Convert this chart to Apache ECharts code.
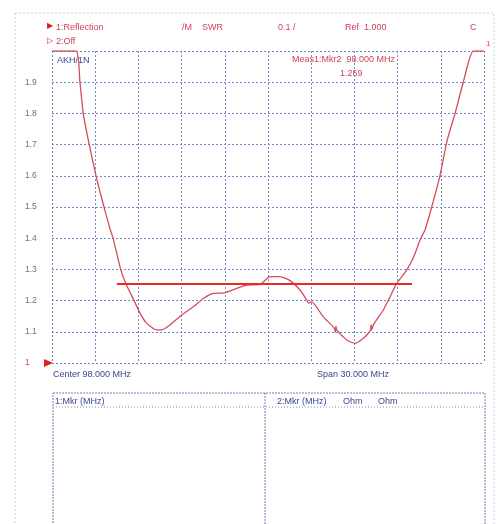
<!DOCTYPE html>
<html>
<head>
<meta charset="utf-8">
<script src="https://cdn.jsdelivr.net/npm/echarts@6/dist/echarts.min.js"></script>
<style>
html,body{margin:0;padding:0;background:#fff;}
#chart{width:499px;height:524px;}
</style>
</head>
<body>
<div id="chart"></div>
<script>
// Frequency (MHz) of the traced SWR points
const freqMHz = [83.0, 84.67, 84.94, 85.17, 85.52, 86.06, 86.61, 87.03, 87.24, 87.77, 88.14, 88.65, 89.11, 89.58, 90.27, 90.62, 91.19, 92.01, 92.81, 93.51, 94.20, 95.01, 95.83, 96.52, 97.44, 98.14, 98.83, 99.53, 100.22, 100.69, 100.80, 101.03, 101.84, 102.60, 102.68, 102.72, 102.77, 103.47, 104.04, 104.62, 105.10, 105.16, 105.20, 105.31, 106.01, 106.59, 106.94, 107.63, 108.09, 108.56, 108.90, 109.37, 109.94, 110.45, 110.99, 111.56, 112.26, 113.0];
// SWR values
const swr = [2.0, 2.0, 1.90, 1.80, 1.715, 1.60, 1.50, 1.43, 1.40, 1.30, 1.253, 1.205, 1.16, 1.127, 1.106, 1.106, 1.122, 1.154, 1.180, 1.207, 1.223, 1.225, 1.239, 1.25, 1.252, 1.277, 1.277, 1.264, 1.234, 1.202, 1.192, 1.196, 1.148, 1.112, 1.098, 1.118, 1.106, 1.074, 1.063, 1.079, 1.104, 1.122, 1.106, 1.122, 1.170, 1.223, 1.255, 1.298, 1.337, 1.394, 1.426, 1.50, 1.60, 1.715, 1.80, 1.90, 2.0, 2.0];
// Hand-drawn reference level line
const refLevel = 1.253;
const refStart = 87.5;
const refEnd = 108.0;
// Axis settings
const xMin = 83, xMax = 113, xStep = 3;
const yMin = 1, yMax = 2, yStep = 0.1;

const navy = '#3a4690';
const pink = '#d2405a';
const font = '"Liberation Sans", Arial, sans-serif';

const chart = echarts.init(document.getElementById('chart'), null, {renderer: 'canvas'});
const gridColor = '#7486cc';

chart.setOption({
  backgroundColor: '#ffffff',
  animation: false,
  grid: {left: 52, top: 51, width: 432, height: 312, containLabel: false},
  xAxis: {
    type: 'value', min: xMin, max: xMax, interval: xStep,
    axisLine: {show: false}, axisTick: {show: false}, axisLabel: {show: false},
    splitLine: {show: true, showMinLine: true, showMaxLine: true, lineStyle: {color: gridColor, type: [2, 2], width: 1}}
  },
  yAxis: {
    type: 'value', min: yMin, max: yMax, interval: yStep,
    axisLine: {show: false}, axisTick: {show: false},
    axisLabel: {
      show: true, align: 'left', margin: 27, fontSize: 8.5, fontFamily: font, color: '#707080',
      formatter: function (v) {
        if (Math.abs(v - 2) < 1e-6) return '';
        if (Math.abs(v - 1) < 1e-6) return '{r|1}';
        return v.toFixed(1);
      },
      rich: {r: {color: '#e04040', fontSize: 8.5, fontFamily: font}}
    },
    splitLine: {show: true, showMinLine: true, showMaxLine: true, lineStyle: {color: gridColor, type: [2, 2], width: 1}}
  },
  series: [{
    type: 'line',
    data: freqMHz.map((f, i) => [f, swr[i]]),
    showSymbol: false,
    smooth: 0.2,
    lineStyle: {color: '#d84a5a', width: 1.3},
    markLine: {
      silent: true, symbol: 'none', label: {show: false},
      lineStyle: {color: '#e82a24', width: 2, type: 'solid'},
      data: [[{coord: [refStart, refLevel]}, {coord: [refEnd, refLevel]}]]
    }
  }],
  graphic: [
    {type: 'rect', shape: {x: 15, y: 13, width: 479, height: 530}, style: {fill: 'none', stroke: '#cfcfcf', lineWidth: 1, lineDash: [2, 2]}, silent: true},
    {type: 'text', left: 47, top: 22, style: {text: '▶', fill: '#e02020', font: '8px ' + font}},
    {type: 'text', left: 56, top: 23, style: {text: '1:Reflection', fill: pink, font: '9px ' + font}},
    {type: 'text', left: 182, top: 23, style: {text: '/M    SWR', fill: pink, font: '9px ' + font}},
    {type: 'text', left: 278, top: 23, style: {text: '0.1 /', fill: pink, font: '9px ' + font}},
    {type: 'text', left: 345, top: 23, style: {text: 'Ref  1.000', fill: pink, font: '9px ' + font}},
    {type: 'text', left: 470, top: 23, style: {text: 'C', fill: pink, font: '9px ' + font}},
    {type: 'text', left: 47, top: 37, style: {text: '▷', fill: '#e02020', font: '8px ' + font}},
    {type: 'text', left: 56, top: 37, style: {text: '2:Off', fill: pink, font: '9px ' + font}},
    {type: 'text', left: 57, top: 56, style: {text: 'AKH/1N', fill: navy, font: '9px ' + font}},
    {type: 'text', left: 292, top: 55, style: {text: 'Meas1:Mkr2  98.000 MHz', fill: pink, font: '9px ' + font}},
    {type: 'text', left: 340, top: 69, style: {text: '1.269', fill: pink, font: '9px ' + font}},
    {type: 'text', left: 486, top: 40, style: {text: '1', fill: '#e04040', font: '8px ' + font}},
    {type: 'polygon', shape: {points: [[44, 359], [53, 363], [44, 367]]}, style: {fill: '#e02020'}},
    {type: 'text', left: 53, top: 370, style: {text: 'Center 98.000 MHz', fill: navy, font: '9px ' + font}},
    {type: 'text', left: 317, top: 370, style: {text: 'Span 30.000 MHz', fill: navy, font: '9px ' + font}},
    {type: 'rect', shape: {x: 53, y: 393, width: 432, height: 140}, style: {fill: 'none', stroke: '#7080b8', lineWidth: 1, lineDash: [2, 1]}},
    {type: 'line', shape: {x1: 265, y1: 393, x2: 265, y2: 530}, style: {stroke: '#7080b8', lineWidth: 1, lineDash: [2, 1]}},
    {type: 'line', shape: {x1: 53, y1: 407, x2: 485, y2: 407}, style: {stroke: '#8090c0', lineWidth: 1, lineDash: [1, 2]}},
    {type: 'text', left: 55, top: 397, style: {text: '1:Mkr (MHz)', fill: navy, font: '9px ' + font}},
    {type: 'text', left: 277, top: 397, style: {text: '2:Mkr (MHz)', fill: navy, font: '9px ' + font}},
    {type: 'text', left: 343, top: 397, style: {text: 'Ohm', fill: navy, font: '9px ' + font}},
    {type: 'text', left: 378, top: 397, style: {text: 'Ohm', fill: navy, font: '9px ' + font}}
  ]
});
</script>
</body>
</html>
